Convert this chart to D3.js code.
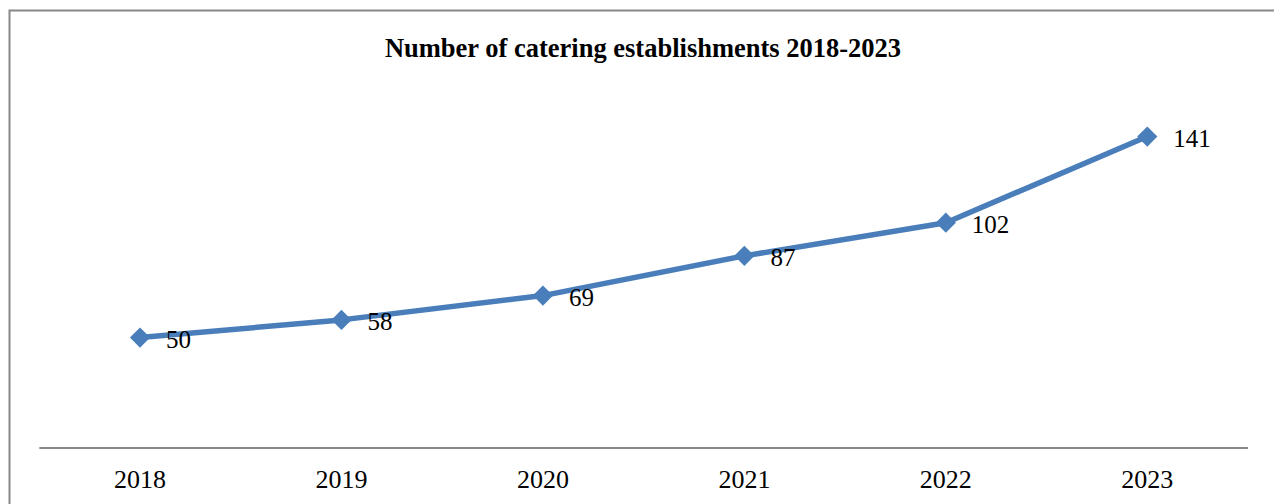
<!DOCTYPE html>
<html>
<head>
<meta charset="utf-8">
<script src="https://cdn.jsdelivr.net/npm/d3@7"></script>
<style>
  html, body { margin: 0; padding: 0; background: #fff; }
  svg { display: block; }
</style>
</head>
<body>
<svg id="chart" width="1274" height="504"></svg>
<script>
const title = "Number of catering establishments 2018-2023";
const years = ["2018", "2019", "2020", "2021", "2022", "2023"];
const values = [50, 58, 69, 87, 102, 141];
const yDomain = [0, 160];

const svg = d3.select("#chart");
const W = 1274, H = 504;
const plot = { left: 39.3, right: 1248, top: 94.6, bottom: 448 };
const color = "#4A7EBB";
const font = "'Liberation Serif', 'Times New Roman', serif";

// outer border (continues beyond right/bottom edges)
svg.append("rect")
  .attr("x", 9.5).attr("y", 10.5)
  .attr("width", W + 20).attr("height", H + 20)
  .attr("fill", "none").attr("stroke", "#888").attr("stroke-width", 2);

const x = d3.scaleBand().domain(years).range([plot.left, plot.right]);
const y = d3.scaleLinear().domain(yDomain).range([plot.bottom, plot.top]);

// title
svg.append("text")
  .attr("x", 643).attr("y", 57)
  .attr("text-anchor", "middle")
  .attr("font-family", font).attr("font-weight", "bold").attr("font-size", 26.5)
  .text(title);

// x axis
const xAxis = d3.axisBottom(x).tickSize(0).tickPadding(0);
const gx = svg.append("g").attr("transform", `translate(0,${y(0)})`).call(xAxis);
gx.select(".domain").attr("stroke", "#888").attr("stroke-width", 2).attr("d", `M${plot.left},0H${plot.right}`);
gx.selectAll(".tick text")
  .attr("font-family", font).attr("font-size", 26).attr("fill", "#000")
  .attr("dy", 0).attr("y", 40);

const cx = d => x(d) + x.bandwidth() / 2;

// line
const line = d3.line().x((d, i) => cx(years[i])).y(d => y(d));
svg.append("path").datum(values)
  .attr("d", line).attr("fill", "none")
  .attr("stroke", color).attr("stroke-width", 5.5).attr("stroke-linejoin", "round");

// markers
const sym = d3.symbol().type(d3.symbolDiamond2).size(260);
svg.selectAll(".marker").data(values).join("path")
  .attr("class", "marker")
  .attr("transform", (d, i) => `translate(${cx(years[i])},${y(d)})`)
  .attr("d", sym).attr("fill", color);

// labels
svg.selectAll(".lbl").data(values).join("text")
  .attr("class", "lbl")
  .attr("x", (d, i) => cx(years[i]) + 26)
  .attr("y", d => y(d) + 10)
  .attr("font-family", font).attr("font-size", 25).attr("fill", "#000")
  .text(d => d);
</script>
</body>
</html>
